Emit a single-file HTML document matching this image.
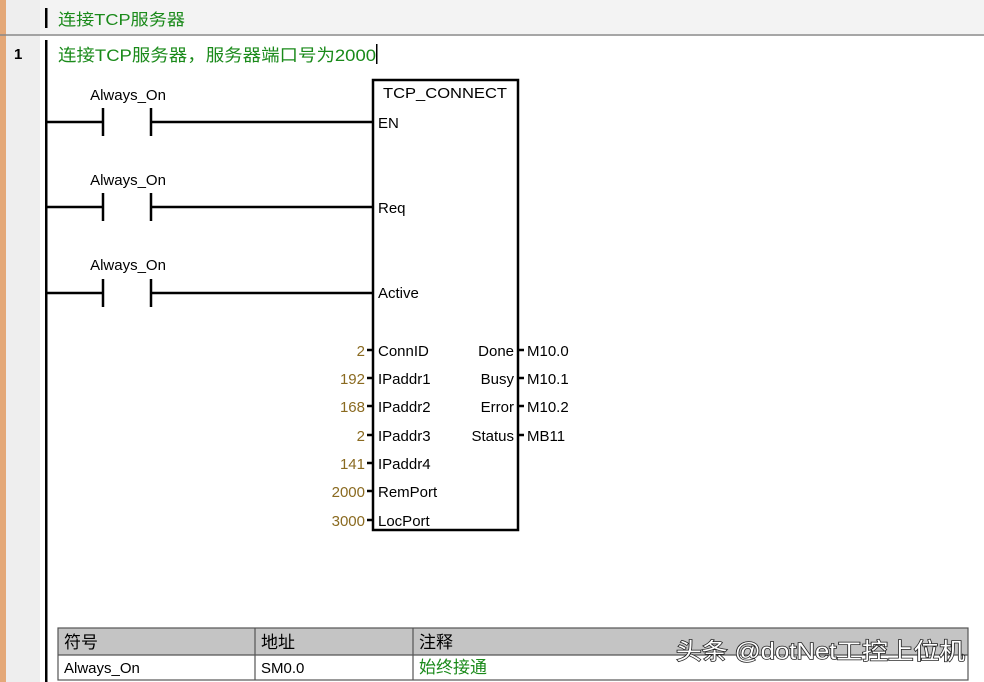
<!DOCTYPE html>
<html><head><meta charset="utf-8"><style>
body{margin:0;width:984px;height:682px;overflow:hidden;background:#fff}
svg{display:block}
text{font-family:"Liberation Sans","Noto Sans CJK SC",sans-serif}
</style></head><body>
<svg width="984" height="682" xmlns="http://www.w3.org/2000/svg">
<rect x="0" y="0" width="984" height="682" fill="#fff"/>
<rect x="0" y="0" width="984" height="34" fill="#f3f3f3"/>
<rect x="0" y="0" width="6" height="682" fill="#e4a878"/>
<rect x="6" y="0" width="34" height="682" fill="#eeeeee"/>
<line x1="0" y1="35" x2="984" y2="35" stroke="#888" stroke-width="1.5"/>
<rect x="45" y="8" width="2.5" height="20" fill="#000"/>
<text x="58" y="25" font-size="16" fill="#1a8a1a" textLength="127" lengthAdjust="spacingAndGlyphs">连接TCP服务器</text>
<text x="14" y="59" font-size="15" font-weight="bold" fill="#000">1</text>
<rect x="45" y="40" width="2.5" height="642" fill="#000"/>
<text x="58" y="61" font-size="17" fill="#1a8a1a" textLength="318" lengthAdjust="spacingAndGlyphs">连接TCP服务器，服务器端口号为2000</text>
<rect x="376" y="44" width="1.5" height="20" fill="#000"/>
<g stroke="#000" stroke-width="2.5">
<line x1="47" y1="122" x2="103" y2="122"/><line x1="103" y1="108" x2="103" y2="136"/><line x1="151" y1="108" x2="151" y2="136"/><line x1="151" y1="122" x2="373" y2="122"/>
<line x1="47" y1="207" x2="103" y2="207"/><line x1="103" y1="193" x2="103" y2="221"/><line x1="151" y1="193" x2="151" y2="221"/><line x1="151" y1="207" x2="373" y2="207"/>
<line x1="47" y1="293" x2="103" y2="293"/><line x1="103" y1="279" x2="103" y2="307"/><line x1="151" y1="279" x2="151" y2="307"/><line x1="151" y1="293" x2="373" y2="293"/>
<rect x="373" y="80" width="145" height="450" fill="none"/>
<line x1="367" y1="350" x2="373" y2="350"/><line x1="367" y1="378" x2="373" y2="378"/><line x1="367" y1="406" x2="373" y2="406"/><line x1="367" y1="435" x2="373" y2="435"/><line x1="367" y1="463" x2="373" y2="463"/><line x1="367" y1="491" x2="373" y2="491"/><line x1="367" y1="520" x2="373" y2="520"/>
<line x1="518" y1="350" x2="524" y2="350"/><line x1="518" y1="378" x2="524" y2="378"/><line x1="518" y1="406" x2="524" y2="406"/><line x1="518" y1="435" x2="524" y2="435"/>
</g>
<g font-size="15" fill="#000">
<text x="128" y="100" text-anchor="middle">Always_On</text>
<text x="128" y="185" text-anchor="middle">Always_On</text>
<text x="128" y="270" text-anchor="middle">Always_On</text>
<text x="383" y="98" textLength="124" lengthAdjust="spacingAndGlyphs">TCP_CONNECT</text>
<text x="378" y="128">EN</text>
<text x="378" y="213">Req</text>
<text x="378" y="298">Active</text>
<text x="378" y="356">ConnID</text>
<text x="378" y="384">IPaddr1</text>
<text x="378" y="412">IPaddr2</text>
<text x="378" y="441">IPaddr3</text>
<text x="378" y="469">IPaddr4</text>
<text x="378" y="497">RemPort</text>
<text x="378" y="526">LocPort</text>
<g text-anchor="end">
<text x="514" y="356">Done</text><text x="514" y="384">Busy</text><text x="514" y="412">Error</text><text x="514" y="441">Status</text>
</g>
<text x="527" y="356">M10.0</text><text x="527" y="384">M10.1</text><text x="527" y="412">M10.2</text><text x="527" y="441">MB11</text>
</g>
<g font-size="15" fill="#8a6a20" text-anchor="end">
<text x="365" y="356">2</text><text x="365" y="384">192</text><text x="365" y="412">168</text><text x="365" y="441">2</text><text x="365" y="469">141</text><text x="365" y="497">2000</text><text x="365" y="526">3000</text>
</g>
<rect x="58" y="628" width="910" height="27" fill="#c4c4c4"/>
<rect x="58" y="655" width="910" height="25" fill="#fff"/>
<g stroke="#555" stroke-width="1.2" fill="none">
<rect x="58" y="628" width="910" height="52"/>
<line x1="58" y1="655" x2="968" y2="655"/>
<line x1="255" y1="628" x2="255" y2="680"/>
<line x1="413" y1="628" x2="413" y2="680"/>
</g>
<g font-size="17" fill="#000">
<text x="64" y="648">符号</text><text x="261" y="648">地址</text><text x="419" y="648">注释</text>
<text x="64" y="673" font-size="15">Always_On</text><text x="261" y="673" font-size="15">SM0.0</text>
</g>
<text x="419" y="673" font-size="17" fill="#1a8a1a">始终接通</text>
<text x="676" y="659" font-size="23" fill="#fff" stroke="#222" stroke-width="1.5" paint-order="stroke" textLength="289" lengthAdjust="spacingAndGlyphs">头条 @dotNet工控上位机</text>
</svg>
</body></html>
